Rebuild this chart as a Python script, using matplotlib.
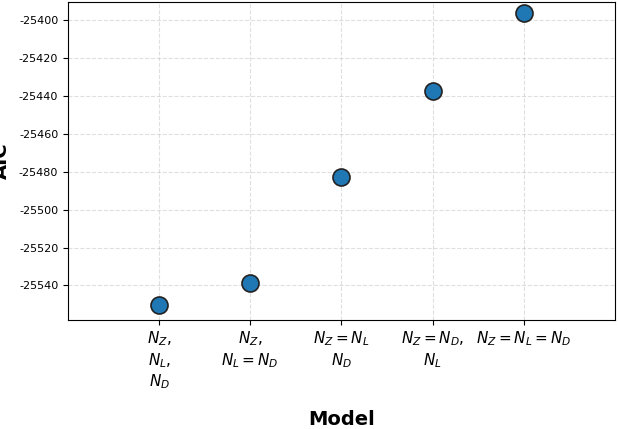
import matplotlib
matplotlib.use("Agg")
import matplotlib.pyplot as plt
plt.rcParams["axes.unicode_minus"] = False

models = [r"$N_Z$," "\n" r"$N_L$," "\n" r"$N_D$",
          r"$N_Z$," "\n" r"$N_L=N_D$",
          r"$N_Z=N_L$" "\n" r"$N_D$",
          r"$N_Z=N_D$," "\n" r"$N_L$",
          r"$N_Z=N_L=N_D$"]
aic = [-25550.5, -25538.6, -25482.5, -25437.6, -25396.0]

fig = plt.figure(figsize=(6.18, 4.29), dpi=100)
ax = fig.add_axes([0.11, 0.255, 0.885, 0.74])
x = list(range(len(models)))
ax.scatter(x, aic, s=150, color="#1f77b4", edgecolor="#222222", linewidth=1.2, zorder=3)
ax.set_xticks(x)
ax.set_xticklabels(models, fontsize=11)
ax.set_xlim(-1, 5)
ax.set_ylim(-25558, -25390.5)
ax.set_yticks(range(-25540, -25399, 20))
ax.tick_params(axis="y", labelsize=8)
ax.grid(True, linestyle="--", alpha=0.4)
ax.set_xlabel("Model", fontsize=14, fontweight="bold", labelpad=14)
ax.set_ylabel("AIC", fontsize=14, fontweight="bold", labelpad=6)
fig.savefig("out.png", dpi=100)
